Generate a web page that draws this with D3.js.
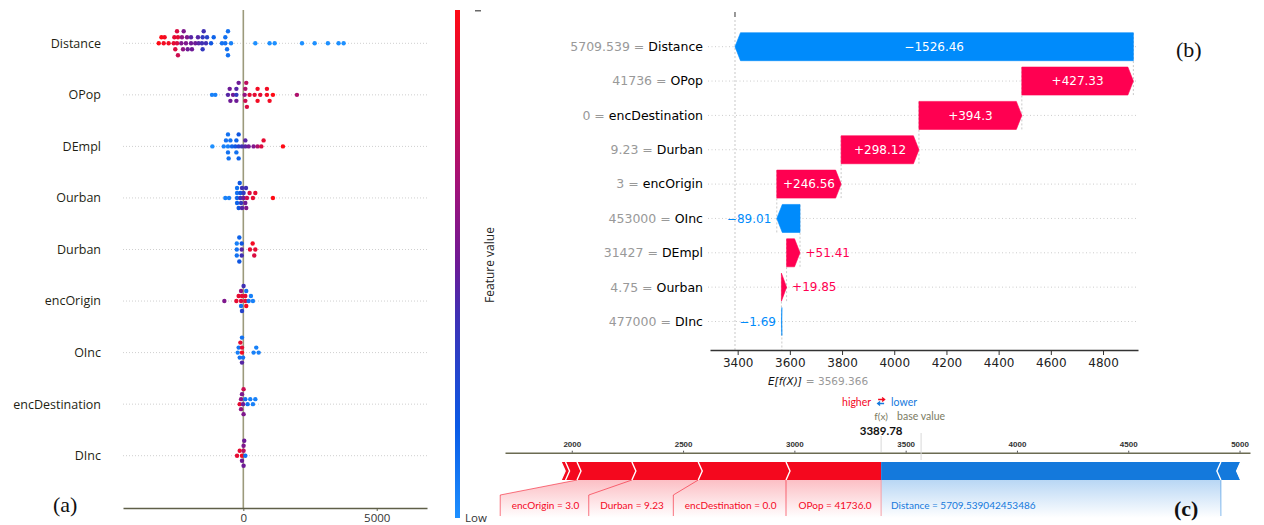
<!DOCTYPE html>
<html>
<head>
<meta charset="utf-8">
<script src="https://cdn.jsdelivr.net/npm/d3@7"></script>
<style>
  html, body { margin: 0; padding: 0; background: #ffffff; }
  svg { display: block; }
</style>
</head>
<body>
<svg id="fig" width="1264" height="525"></svg>
<script>
// ---------------- data ----------------
// (a) SHAP summary: per feature, [shap value, normalised feature value]
const beeFeatures = ["Distance", "OPop", "DEmpl", "Ourban", "Durban", "encOrigin", "OInc", "encDestination", "DInc"];
const shapDistance = [
  [-3170, 1], [-3070, 1], [-2985, 0.95], [-2950, 0.95], [-2800, 0.95], [-2610, 0.9], [-2585, 0.9],
  [-2550, 0.85], [-2485, 0.85], [-2485, 0.85], [-2450, 0.9], [-2450, 0.8], [-2325, 0.55], [-2300, 0.6],
  [-2260, 0.6], [-2235, 0.55], [-2150, 0.55], [-2110, 0.55], [-2085, 0.5], [-1960, 0.5], [-1960, 0.45],
  [-1925, 0.5], [-1800, 0.5], [-1700, 0.45], [-1675, 0.45], [-1550, 0.4], [-1525, 0.35], [-1525, 0.35],
  [-1485, 0.4], [-1400, 0.4], [-1360, 0.3], [-1210, 0.2], [-1110, 0.15], [-800, 0.1], [-675, 0.1],
  [-675, 0.1], [-610, 0.1], [-575, 0.1], [-575, 0.1], [-460, 0.05], [450, 0], [985, 0], [1175, 0],
  [2200, 0], [2675, 0], [3170, 0], [3570, 0], [3760, 0]
];
const shapOPop = [
  [-1175, 0.05], [-1050, 0.05], [-575, 0.45], [-510, 0.5], [-485, 0.5], [-385, 0.5], [-260, 0.35],
  [-260, 0.45], [-260, 0.5], [-175, 0.5], [50, 0.6], [75, 0.7], [75, 0.8], [110, 0.75], [135, 0.85],
  [235, 0.9], [425, 0.9], [535, 0.95], [535, 0.95], [635, 0.9], [885, 0.95], [885, 0.95], [985, 0.95],
  [1110, 1], [2010, 0.7]
];
const shapDEmpl = [
  [-1160, 0], [-735, 0.05], [-650, 0.1], [-575, 0.05], [-575, 0.1], [-575, 0.1], [-550, 0.1],
  [-485, 0.1], [-425, 0.15], [-300, 0.2], [-260, 0.15], [-260, 0.1], [-175, 0.3], [-175, 0.2],
  [-175, 0.15], [-50, 0.4], [75, 0.45], [75, 0.45], [200, 0.5], [385, 0.55], [535, 0.7], [675, 0.85],
  [760, 0.9], [1485, 1]
];
const shapOurban = [
  [-675, 0.05], [-535, 0.05], [-235, 0.15], [-235, 0.1], [-235, 0.15], [-235, 0.1], [-175, 0.2],
  [-135, 0.2], [-110, 0.4], [-110, 0.2], [-85, 0.35], [-50, 0.4], [-50, 0.45], [10, 0.5], [10, 0.35],
  [75, 0.5], [100, 0.4], [110, 0.55], [135, 0.8], [235, 0.85], [360, 0.9], [450, 0.9], [1110, 1]
];
const shapDurban = [
  [-245, 0.1], [-245, 0.05], [-245, 0.1], [-150, 0.15], [-150, 0.2], [-60, 0.45], [-60, 0.2],
  [-60, 0.4], [250, 0.9], [350, 0.95], [450, 0.9], [410, 0.85]
];
const shapEncOrigin = [
  [-710, 0.55], [-260, 0.9], [-175, 0.9], [-85, 0.85], [-85, 0.1], [-85, 0.6], [-50, 0.9], [-50, 0.3],
  [10, 0.4], [75, 0.9], [75, 0.9], [110, 0.95], [110, 0.1], [200, 0.1], [285, 0.05], [360, 0.05]
];
const shapOInc = [
  [-210, 0.05], [-175, 0.1], [-135, 0.1], [-110, 0.9], [-50, 0.95], [-50, 0.9], [-50, 0.45],
  [-50, 0.1], [-10, 0.1], [385, 0.05], [485, 0.05], [575, 0.05]
];
const shapEncDestination = [
  [-135, 0.9], [-85, 0.6], [-85, 0.6], [-50, 0.55], [-10, 0.5], [10, 0.55], [10, 0.8], [75, 0.1],
  [160, 0.1], [260, 0.05], [360, 0.05], [450, 0.05]
];
const shapDInc = [
  [-235, 0.9], [-135, 0.9], [-50, 0.95], [-50, 0.5], [10, 0.75], [10, 0.55], [10, 0.5], [35, 0.5], [75, 0.1]
];
const beeData = [shapDistance, shapOPop, shapDEmpl, shapOurban, shapDurban, shapEncOrigin, shapOInc, shapEncDestination, shapDInc];
const beeTicks = [0, 5000];

// (b) waterfall for one prediction, top to bottom
const wfFeatures = ["Distance", "OPop", "encDestination", "Durban", "encOrigin", "OInc", "DEmpl", "Ourban", "DInc"];
const wfValues = ["5709.539", "41736", "0", "9.23", "3", "453000", "31427", "4.75", "477000"];
const wfShap = [-1526.46, 427.33, 394.3, 298.12, 246.56, -89.01, 51.41, 19.85, -1.69];
const baseValue = 3569.366;
const fxValue = 3389.78;
const wfTicks = [3400, 3600, 3800, 4000, 4200, 4400, 4600, 4800];

// (c) force plot: raw feature values as printed in the labels
const forceValues = ["5709.539042453486", "41736.0", "0.0", "9.23", "3.0", "453000.0", "31427.0", "4.75", "477000.0"];
const forceTicks = [2000, 2500, 3000, 3500, 4000, 4500, 5000];

// ---------------- drawing ----------------
const fontUI = "'Open Sans', 'Noto Sans', sans-serif";
const fontMpl = "'DejaVu Sans', sans-serif";
const fontSerif = "'Liberation Serif', 'Times New Roman', serif";
const fontForce = "Lato, 'Open Sans', sans-serif";

const RED = "#ff0051", BLUE = "#008bfb";
const FRED = "#f4081e", FBLUE = "#1479dc";

const svg = d3.select("#fig");
const defs = svg.append("defs");

// ===== (a) beeswarm summary =====
const gA = svg.append("g");
const xA = d3.scaleLinear().domain([-4510, 6885]).range([123, 427]);
const yA = d3.scalePoint().domain(beeFeatures).range([43.3, 455.7]);
const cmapStops = [0, 0.18, 0.4, 0.5, 0.65, 0.82, 1];
const cmapColors = ["#1e90ff", "#0a5ae6", "#4030b4", "#6e1a96", "#a0127a", "#d20c4a", "#ff0a14"];
const cmap = d3.scaleLinear().domain(cmapStops).range(cmapColors).interpolate(d3.interpolateRgb);

gA.selectAll("line.grid").data(beeFeatures).join("line")
  .attr("class", "grid")
  .attr("x1", 123).attr("x2", 427)
  .attr("y1", d => yA(d)).attr("y2", d => yA(d))
  .attr("stroke", "#cfcfcf").attr("stroke-width", 1).attr("stroke-dasharray", "1,2");

gA.append("line")
  .attr("x1", xA(0)).attr("x2", xA(0)).attr("y1", 10).attr("y2", 508)
  .attr("stroke", "#9c9a7c").attr("stroke-width", 1.6);

gA.selectAll("text.feat").data(beeFeatures).join("text")
  .attr("class", "feat")
  .attr("x", 101).attr("y", d => yA(d)).attr("dy", "0.35em")
  .attr("text-anchor", "end")
  .style("font-family", fontUI).style("font-size", "12.5px").attr("fill", "#1f1f14")
  .text(d => d);

// greedy swarm: each dot takes the nearest free layer (0, up, down, ...)
function swarmLayers(pxs, minDx) {
  const placed = [];
  const order = [0, -1, 1, -2, 2, -3, 3, -4, 4, -5, 5];
  return pxs.map(px => {
    for (const L of order) {
      if (!placed.some(p => p.L === L && Math.abs(p.px - px) < minDx)) {
        placed.push({ px, L });
        return L;
      }
    }
    return 0;
  });
}

beeFeatures.forEach((f, i) => {
  const pts = beeData[i];
  const layers = swarmLayers(pts.map(p => xA(p[0])), 3.0);
  const maxL = d3.max(layers, l => Math.abs(l)) || 1;
  const step = Math.min(6, 15 / maxL);
  gA.append("g").selectAll("circle").data(pts).join("circle")
    .attr("cx", p => xA(p[0]))
    .attr("cy", (p, j) => yA(f) + layers[j] * step)
    .attr("r", 2.2)
    .attr("fill", p => cmap(p[1]));
});

const axA = gA.append("g").attr("transform", "translate(0,508)")
  .call(d3.axisBottom(xA).tickValues(beeTicks).tickSize(3).tickSizeOuter(0).tickFormat(d3.format("d")));
axA.select(".domain").attr("stroke", "#5f5f48").attr("stroke-width", 1.5);
axA.selectAll(".tick line").attr("stroke", "#5f5f48");
axA.selectAll(".tick text").style("font-family", fontUI).style("font-size", "11.5px").attr("fill", "#333");

// colour bar
const cbGrad = defs.append("linearGradient").attr("id", "cbGrad")
  .attr("x1", 0).attr("y1", 1).attr("x2", 0).attr("y2", 0);
cbGrad.selectAll("stop").data(cmapStops).join("stop")
  .attr("offset", d => d).attr("stop-color", (d, i) => cmapColors[i]);
gA.append("rect").attr("x", 455).attr("y", 10).attr("width", 5).attr("height", 508)
  .attr("fill", "url(#cbGrad)");
// tick at the top end of the colour bar
gA.append("line").attr("x1", 475).attr("x2", 481).attr("y1", 10.8).attr("y2", 10.8)
  .attr("stroke", "#444").attr("stroke-width", 1.2);
gA.append("text").attr("x", 465).attr("y", 521.5)
  .style("font-family", fontUI).style("font-size", "11.5px").attr("fill", "#333").text("Low");
gA.append("text").attr("transform", "translate(494,265) rotate(-90)")
  .attr("text-anchor", "middle")
  .style("font-family", fontUI).style("font-size", "12px").attr("fill", "#222").text("Feature value");

gA.append("text").attr("x", 53).attr("y", 512)
  .style("font-family", fontSerif).style("font-size", "22px").attr("fill", "#111").text("(a)");

// ===== (b) waterfall =====
const gB = svg.append("g");
const xB = d3.scaleLinear().domain([3294, 4934]).range([710, 1138]);
const yB = d3.scalePoint().domain(wfFeatures).range([46.7, 321.5]);
const barH = 28;

// cumulative positions, built from the bottom row up
const wf = wfFeatures.map((f, i) => ({ f, val: wfValues[i], shap: wfShap[i] }));
let acc = baseValue;
for (let i = wf.length - 1; i >= 0; i--) {
  wf[i].start = acc;
  wf[i].end = acc + wf[i].shap;
  acc = wf[i].end;
}

gB.selectAll("line.grid").data(wfFeatures).join("line")
  .attr("class", "grid")
  .attr("x1", 708).attr("x2", 1138)
  .attr("y1", d => yB(d)).attr("y2", d => yB(d))
  .attr("stroke", "#cccccc").attr("stroke-width", 1).attr("stroke-dasharray", "1,2.5");

// connector lines between consecutive bars
wf.forEach((d, i) => {
  if (i === 0) return;
  gB.append("line")
    .attr("x1", xB(d.end)).attr("x2", xB(d.end))
    .attr("y1", yB(d.f) + barH / 2).attr("y2", yB(wf[i - 1].f) - barH / 2)
    .attr("stroke", "#bbbbbb").attr("stroke-width", 0.8).attr("stroke-dasharray", "2,2");
});
// f(x) line and base value line
gB.append("line").attr("x1", xB(fxValue)).attr("x2", xB(fxValue)).attr("y1", 20).attr("y2", 350)
  .attr("stroke", "#bbbbbb").attr("stroke-width", 0.8).attr("stroke-dasharray", "2,2");
gB.append("line").attr("x1", xB(baseValue)).attr("x2", xB(baseValue))
  .attr("y1", yB("DInc")).attr("y2", 350)
  .attr("stroke", "#bbbbbb").attr("stroke-width", 0.8).attr("stroke-dasharray", "2,2");
gB.append("line").attr("x1", xB(fxValue)).attr("x2", xB(fxValue)).attr("y1", 12).attr("y2", 17)
  .attr("stroke", "#333").attr("stroke-width", 1);

function arrowPath(d) {
  const x0 = xB(d.start), x1 = xB(d.end);
  const yc = yB(d.f), t = yc - barH / 2, b = yc + barH / 2;
  const w = Math.abs(x1 - x0);
  const h = Math.min(5.5, w);
  const s = x1 > x0 ? 1 : -1;
  return `M${x0},${t}L${x1 - s * h},${t}L${x1},${yc}L${x1 - s * h},${b}L${x0},${b}Z`;
}
gB.selectAll("path.bar").data(wf).join("path")
  .attr("class", "bar")
  .attr("d", arrowPath)
  .attr("fill", d => d.shap > 0 ? RED : BLUE)
  .attr("stroke", d => d.shap > 0 ? RED : BLUE).attr("stroke-width", 0.6);

const fmtShap = v => (v > 0 ? "+" : "\u2212") + Math.abs(v);
wf.forEach(d => {
  const x0 = xB(d.start), x1 = xB(d.end);
  const w = Math.abs(x1 - x0);
  const t = gB.append("text").attr("y", yB(d.f)).attr("dy", "0.35em")
    .style("font-family", fontMpl).style("font-size", "12px").text(fmtShap(d.shap));
  const tw = t.node().getComputedTextLength();
  if (tw + 8 < w) {
    t.attr("x", (x0 + x1) / 2).attr("text-anchor", "middle").attr("fill", "#fff");
  } else if (d.shap > 0) {
    t.attr("x", x1 + 5.5).attr("text-anchor", "start").attr("fill", RED);
  } else {
    t.attr("x", x1 - 5.5).attr("text-anchor", "end").attr("fill", BLUE);
  }
});

const labB = gB.selectAll("text.feat").data(wf).join("text")
  .attr("class", "feat")
  .attr("x", 703).attr("y", d => yB(d.f)).attr("dy", "0.35em")
  .attr("text-anchor", "end")
  .style("font-family", fontMpl).style("font-size", "12.5px");
labB.append("tspan").attr("fill", "#999999").text(d => d.val + " = ");
labB.append("tspan").attr("fill", "#000").text(d => d.f);

const axB = gB.append("g").attr("transform", "translate(0,350)")
  .call(d3.axisBottom(xB).tickValues(wfTicks).tickSize(5).tickSizeOuter(0).tickFormat(d3.format("d")));
axB.select(".domain").attr("stroke", "#333").attr("stroke-width", 1.3);
axB.selectAll(".tick line").attr("stroke", "#333");
axB.selectAll(".tick text").style("font-family", fontMpl).style("font-size", "12px").attr("fill", "#222");

gB.append("text").attr("x", xB(baseValue) + 20).attr("y", 384.5).attr("text-anchor", "end")
  .style("font-family", fontMpl).style("font-size", "10.5px").style("font-style", "italic")
  .attr("fill", "#111").text("E[f(X)]");
gB.append("text").attr("x", xB(baseValue) + 24).attr("y", 384.5)
  .style("font-family", fontMpl).style("font-size", "10.5px").attr("fill", "#999999")
  .text("= " + baseValue.toFixed(3));

gB.append("text").attr("x", 1176).attr("y", 57)
  .style("font-family", fontSerif).style("font-size", "22px").attr("fill", "#111").text("(b)");

// ===== (c) force plot =====
const gC = svg.append("g");
const xC = d3.scaleLinear().domain([1700, 5047]).range([505, 1250]);
const segTop = 462, segBot = 480, segMid = (segTop + segBot) / 2, tipLen = 4;

const fItems = wfFeatures.map((f, i) => ({ f, shap: wfShap[i], lab: f + " = " + forceValues[i] }));
const pos = fItems.filter(d => d.shap > 0).sort((a, b) => b.shap - a.shap);
const neg = fItems.filter(d => d.shap < 0).sort((a, b) => a.shap - b.shap);
let cur = fxValue;
pos.forEach(d => { d.hi = cur; d.lo = cur - d.shap; cur = d.lo; });
cur = fxValue;
neg.forEach(d => { d.lo = cur; d.hi = cur - d.shap; cur = d.hi; });

// label gradients under the bar
const rg = defs.append("linearGradient").attr("id", "redFade").attr("gradientUnits", "userSpaceOnUse")
  .attr("x1", 0).attr("y1", segBot).attr("x2", 0).attr("y2", 518);
rg.append("stop").attr("offset", 0).attr("stop-color", FRED).attr("stop-opacity", 0.26);
rg.append("stop").attr("offset", 1).attr("stop-color", FRED).attr("stop-opacity", 0);
const bg = defs.append("linearGradient").attr("id", "blueFade").attr("gradientUnits", "userSpaceOnUse")
  .attr("x1", 0).attr("y1", segBot).attr("x2", 0).attr("y2", 518);
bg.append("stop").attr("offset", 0).attr("stop-color", FBLUE).attr("stop-opacity", 0.3);
bg.append("stop").attr("offset", 1).attr("stop-color", FBLUE).attr("stop-opacity", 0);

const gFill = gC.append("g"), gLines = gC.append("g"), gLabs = gC.append("g");

// positive side labels, laid out from f(x) leftwards
let boxR = xC(fxValue), lastSeg = null, lastBox = null;
pos.filter(d => Math.abs(d.shap) > 100).forEach(d => {
  const t = gLabs.append("text").attr("y", 509)
    .style("font-family", fontForce).style("font-size", "10px").attr("fill", FRED).text(d.lab);
  const tw = t.node().getComputedTextLength();
  const segL = xC(d.lo);
  const boxL = Math.min(segL, boxR - tw - 21);
  t.attr("x", boxR - 9.5).attr("text-anchor", "end");
  gLines.append("path").attr("d", `M${segL},${segBot}L${boxL},495L${boxL},516`)
    .attr("fill", "none").attr("stroke", FRED).attr("stroke-opacity", 0.55).attr("stroke-width", 1);
  boxR = boxL; lastSeg = segL; lastBox = boxL;
});
if (lastSeg !== null) {
  gFill.append("path")
    .attr("d", `M${lastSeg},${segBot}L${xC(fxValue)},${segBot}L${xC(fxValue)},518L${lastBox},518L${lastBox},495Z`)
    .attr("fill", "url(#redFade)");
}

// negative side labels, laid out from f(x) rightwards
let boxL2 = xC(fxValue), lastSegN = null, lastBoxN = null;
neg.filter(d => Math.abs(d.shap) > 100).forEach(d => {
  const t = gLabs.append("text").attr("y", 509)
    .style("font-family", fontForce).style("font-size", "10px").attr("fill", FBLUE).text(d.lab);
  const tw = t.node().getComputedTextLength();
  const segR = xC(d.hi);
  const boxRr = Math.max(segR, boxL2 + tw + 21);
  t.attr("x", boxL2 + 10).attr("text-anchor", "start");
  gLines.append("path").attr("d", `M${segR},${segBot}L${boxRr},495L${boxRr},516`)
    .attr("fill", "none").attr("stroke", FBLUE).attr("stroke-opacity", 0.5).attr("stroke-width", 1);
  boxL2 = boxRr; lastSegN = segR; lastBoxN = boxRr;
});
if (lastSegN !== null) {
  gFill.append("path")
    .attr("d", `M${xC(fxValue)},${segBot}L${lastSegN},${segBot}L${lastBoxN},495L${lastBoxN},518L${xC(fxValue)},518Z`)
    .attr("fill", "url(#blueFade)");
}
gLines.append("line").attr("x1", xC(fxValue)).attr("x2", xC(fxValue)).attr("y1", segBot).attr("y2", 516)
  .attr("stroke", "#f3a0a8").attr("stroke-width", 1);

// bar segments
const gSeg = gC.append("g");
pos.forEach((d, i) => {
  const x0 = xC(d.lo), x1 = xC(d.hi);
  const right = i === 0 ? `L${x1},${segBot}` : `L${x1 + tipLen},${segMid}L${x1},${segBot}`;
  gSeg.append("path")
    .attr("d", `M${x0},${segTop}L${x1},${segTop}${right}L${x0},${segBot}L${x0 + tipLen},${segMid}Z`)
    .attr("fill", FRED);
});
neg.forEach((d, i) => {
  const x0 = xC(d.lo), x1 = xC(d.hi);
  const left = i === 0 ? "" : `L${x0 - tipLen},${segMid}`;
  gSeg.append("path")
    .attr("d", `M${x0},${segTop}L${x1},${segTop}L${x1 - tipLen},${segMid}L${x1},${segBot}L${x0},${segBot}${left}Z`)
    .attr("fill", FBLUE);
});
// white chevron separators
pos.forEach(d => {
  const x0 = xC(d.lo);
  gSeg.append("path").attr("d", `M${x0},${segTop}L${x0 + tipLen},${segMid}L${x0},${segBot}`)
    .attr("fill", "none").attr("stroke", "#fff").attr("stroke-width", 1.4);
});
neg.forEach(d => {
  const x1 = xC(d.hi);
  gSeg.append("path").attr("d", `M${x1},${segTop}L${x1 - tipLen},${segMid}L${x1},${segBot}`)
    .attr("fill", "none").attr("stroke", "#fff").attr("stroke-width", 1.4);
});

// axis
const axC = gC.append("g").attr("transform", "translate(0,452.7)")
  .call(d3.axisTop(xC).tickValues(forceTicks).tickSize(2).tickPadding(4).tickSizeOuter(0).tickFormat(d3.format("d")));
axC.select(".domain").attr("stroke", "#6b6b52").attr("stroke-width", 1.6);
axC.selectAll(".tick line").attr("stroke", "#555");
axC.selectAll(".tick text").style("font-family", "'Liberation Sans', Arial, sans-serif")
  .style("font-size", "8px").style("font-weight", "bold").attr("fill", "#333");

// f(x) and base value markers
gC.append("line").attr("x1", xC(fxValue)).attr("x2", xC(fxValue)).attr("y1", 436).attr("y2", 452)
  .attr("stroke", "#d8d8d8").attr("stroke-width", 1);
gC.append("line").attr("x1", xC(baseValue)).attr("x2", xC(baseValue)).attr("y1", 433).attr("y2", 460)
  .attr("stroke", "#d8d8d8").attr("stroke-width", 1);

const cx = xC(fxValue);
gC.append("text").attr("x", cx - 10).attr("y", 405.5).attr("text-anchor", "end")
  .style("font-family", fontForce).style("font-size", "10.5px").attr("fill", FRED).text("higher");
gC.append("text").attr("x", cx + 10).attr("y", 405.5).attr("text-anchor", "start")
  .style("font-family", fontForce).style("font-size", "10.5px").attr("fill", FBLUE).text("lower");
// small swap arrows between the two words
gC.append("path").attr("d", `M${cx - 3},399.5L${cx + 3},399.5M${cx + 1},397.5L${cx + 3.5},399.5L${cx + 1},401.5`)
  .attr("fill", "none").attr("stroke", FRED).attr("stroke-width", 1.3);
gC.append("path").attr("d", `M${cx + 3},403.5L${cx - 3},403.5M${cx - 1},401.5L${cx - 3.5},403.5L${cx - 1},405.5`)
  .attr("fill", "none").attr("stroke", FBLUE).attr("stroke-width", 1.3);
gC.append("text").attr("x", cx).attr("y", 419.5).attr("text-anchor", "middle")
  .style("font-family", fontForce).style("font-size", "10px").attr("fill", "#7b7b62").text("f(x)");
gC.append("text").attr("x", xC(baseValue)).attr("y", 419.5).attr("text-anchor", "middle")
  .style("font-family", fontForce).style("font-size", "10.5px").attr("fill", "#7b7b62").text("base value");
gC.append("text").attr("x", cx).attr("y", 434.5).attr("text-anchor", "middle")
  .style("font-family", fontForce).style("font-size", "11.5px").style("font-weight", "bold")
  .attr("fill", "#111").text(fxValue.toFixed(2));

gC.append("text").attr("x", 1174).attr("y", 516)
  .style("font-family", fontSerif).style("font-size", "22px").style("font-weight", "bold")
  .attr("fill", "#111").text("(c)");
</script>
</body>
</html>
